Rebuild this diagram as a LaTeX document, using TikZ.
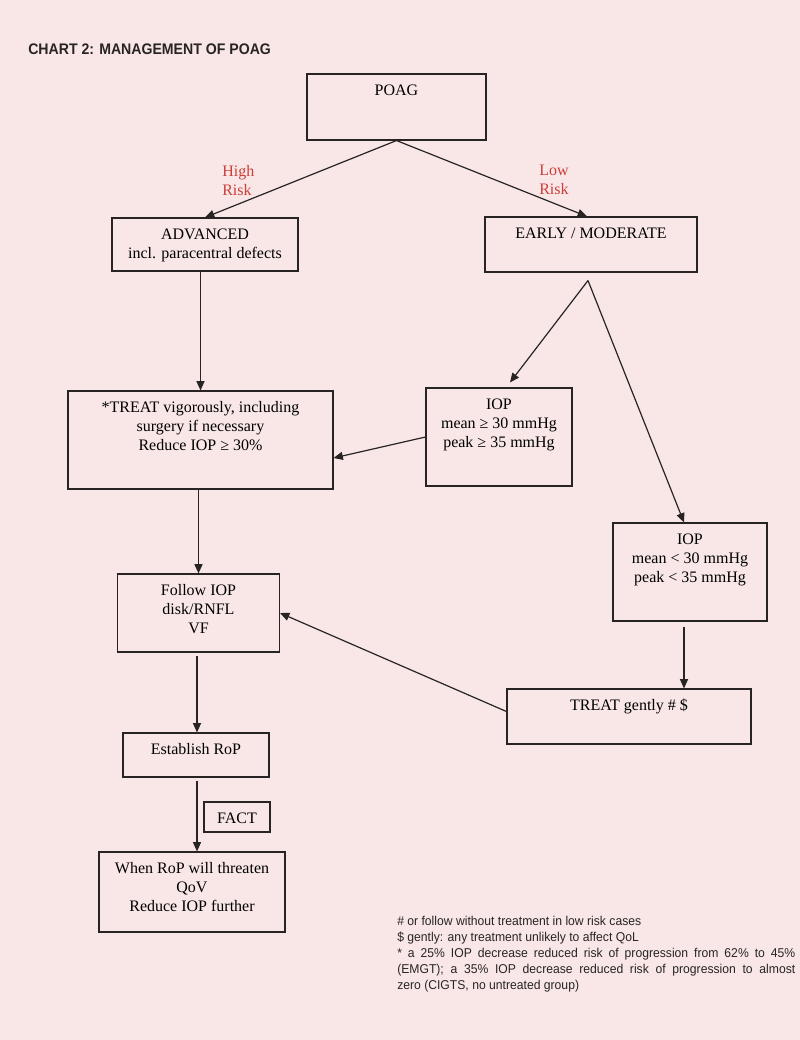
\documentclass[tikz,border=0pt]{standalone}
\usepackage{fontspec}
\setmainfont{Liberation Serif}
\setsansfont{Liberation Sans}
\newfontfamily\narrowsans{Liberation Sans}[FakeStretch=0.92]
\newfontfamily\notesans{Liberation Sans}[FakeStretch=0.95]
\usepackage{xcolor}
\usetikzlibrary{calc,arrows.meta}
\definecolor{pagepink}{RGB}{249,231,231}
\definecolor{riskred}{RGB}{203,62,58}
\definecolor{inkgray}{RGB}{40,36,36}
\newlength{\px}
\setlength{\px}{0.75pt}
% box text: width, height (in px), lines at the top
\newcommand{\boxtext}[3]{\parbox[c][#2\px][t]{#1\px}{\centering\fontsize{12pt}{14.25pt}\selectfont\rule{0pt}{15.75pt}#3}}
\tikzset{
  bx/.style={draw=inkgray, line width=0.8pt, inner sep=0pt},
  arr/.style={draw=inkgray, line width=0.9pt, -{Triangle[length=7pt,width=6pt]}},
  risk/.style={text=riskred, align=left, inner sep=0pt, font=\fontsize{12pt}{14.25pt}\selectfont},
}
\begin{document}
\begin{tikzpicture}[x=0.75pt,y=-0.75pt]

\fill[pagepink] (0,0) rectangle (800,1040);
\useasboundingbox (0,0) rectangle (800,1040);

\node[anchor=base west, inner sep=0pt, text=inkgray, font=\narrowsans\bfseries\fontsize{11.5pt}{13pt}\selectfont] (title) at (28,54) {CHART 2: MANAGEMENT OF POAG};

\node[bx] (poag) at (396.5,107) {\boxtext{179}{66}{POAG}};
\node[bx] (adv) at (205,244.5) {\boxtext{186}{53}{ADVANCED\\incl. paracentral defects}};
\node[bx] (early) at (591,244.5) {\boxtext{212}{55}{EARLY / MODERATE}};
\node[bx] (treat) at (200.5,440) {\boxtext{265}{98}{*TREAT vigorously, including\\surgery if necessary\\Reduce IOP ≥ 30\%}};
\node[bx] (iophi) at (499,437) {\boxtext{146}{98}{IOP\\mean ≥ 30 mmHg\\peak ≥ 35 mmHg}};
\node[bx] (ioplo) at (690,572) {\boxtext{154}{98}{IOP\\mean < 30 mmHg\\peak < 35 mmHg}};
\node[bx] (follow) at (198.5,613) {\boxtext{162}{78}{Follow IOP\\disk/RNFL\\VF}};
\node[bx] (gently) at (629,716.5) {\boxtext{244}{55}{TREAT gently \# \$}};
\node[bx] (estab) at (196,755) {\boxtext{146}{44}{Establish RoP}};
\node[bx] (fact) at (237,817) {\boxtext{66}{30}{FACT}};
\node[bx] (when) at (192,892) {\boxtext{186}{80}{When RoP will threaten\\QoV\\Reduce IOP further}};

\node[risk, anchor=west] (high) at (222,181) {High\\Risk};
\node[risk, anchor=west] (low) at (539,180) {Low\\Risk};

\draw[arr] (poag.south) -- (adv.north);
\draw[arr] (poag.south) -- ($(early.north)+(-4,0)$);
\draw[arr] (treat.north |- adv.south) -- (treat.north);
\coordinate (fork) at ($(early.south)+(-3,8)$);
\draw[arr] (fork) -- ($(iophi.north)+(11,-5)$);
\draw[arr] (fork) -- ($(ioplo.north)+(-6,0)$);
\draw[arr] (iophi.west) -- ($(treat.east)+(0,18)$);
\draw[arr, line width=1.2pt] (follow.north |- treat.south) -- (follow.north);
\draw[arr] ($(ioplo.south)+(-6,5)$) coordinate (drop) -- (drop |- gently.north);
\draw[arr] ($(gently.west)+(0,-5)$) -- (follow.east);
\draw[arr] ($(follow.south)+(-1.5,3)$) coordinate (fdown) -- (fdown |- estab.north);
\draw[arr] ($(estab.south)+(1,3)$) coordinate (edown) -- (edown |- when.north);

%notes
\node[anchor=north west, inner sep=0pt, text width=298.5pt, align=justify, text=inkgray, font=\notesans\fontsize{9.6pt}{12pt}\selectfont] (notes) at (397,916) {\# or follow without treatment in low risk cases\\
\$ gently: any treatment unlikely to affect QoL\\
{*} a 25\% IOP decrease reduced risk of progression from 62\% to 45\%\linebreak
(EMGT); a 35\% IOP decrease reduced risk of progression to almost\linebreak
zero (CIGTS, no untreated group)};

\end{tikzpicture}
\end{document}
